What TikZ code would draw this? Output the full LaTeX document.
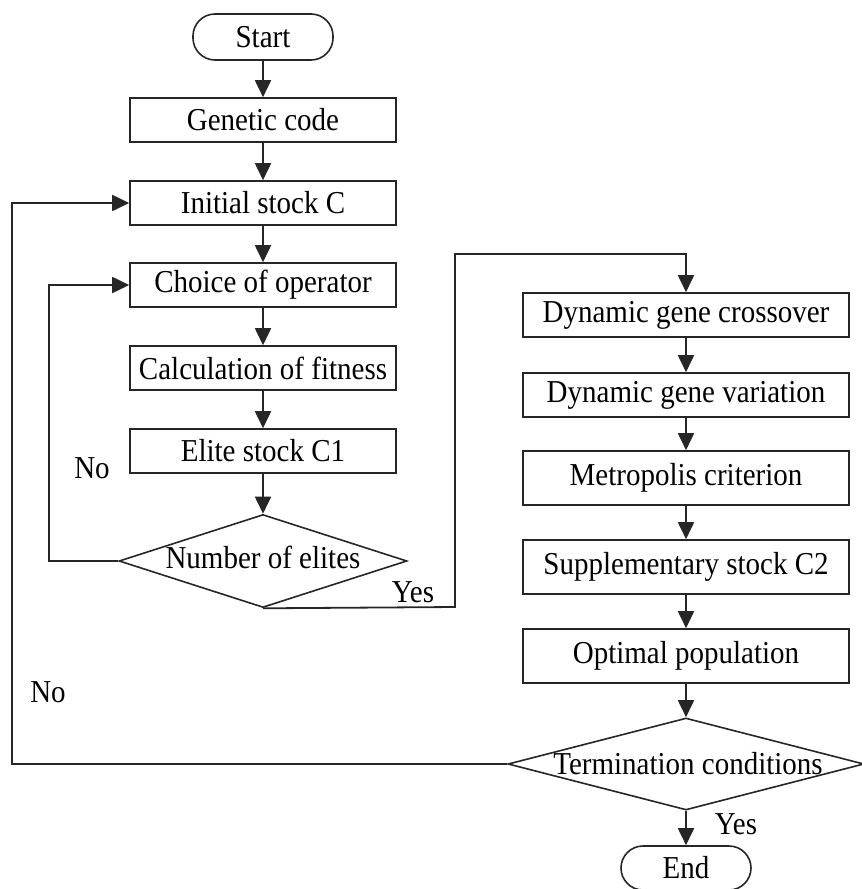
\documentclass[tikz,border=0pt]{standalone}
\usepackage{fontspec}
\setmainfont{Liberation Serif}
\usetikzlibrary{arrows.meta,shapes.geometric}
\newcommand{\tx}[1]{\scalebox{1.0}[1.1]{#1}}
\begin{document}
\begin{tikzpicture}[x=1pt,y=-1pt,
  every node/.style={font=\fontsize{29}{32}\selectfont, inner sep=0pt},
  lbox/.style={draw=black!85, line width=1.6pt, rectangle, minimum width=266pt, minimum height=44pt},
  rbox/.style={draw=black!85, line width=1.6pt, rectangle, minimum width=326pt, minimum height=44pt},
  term/.style={draw=black!85, line width=1.6pt, rectangle, rounded corners=22pt, minimum height=44pt},
  dia/.style={draw=black!85, line width=1.6pt, diamond, inner sep=0pt},
  conn/.style={draw=black!85, line width=1.8pt, -{Triangle[length=17pt,width=16pt]}},
  line/.style={draw=black!85, line width=1.8pt}
]
\useasboundingbox (0,0) rectangle (862,889);
% left column
\node[term, minimum width=140pt, minimum height=46pt] (start) at (263,37) {\tx{Start}};
\node[lbox] (gc) at (263,120) {\tx{Genetic code}};
\node[lbox] (ic) at (263,203) {\tx{Initial stock C}};
\node[lbox] (co) at (263,285) {\tx{Choice of operator}};
\node[lbox] (cf) at (263,368) {\tx{Calculation of fitness}};
\node[lbox] (es) at (263,451) {\tx{Elite stock C1}};
\node[dia, minimum width=288pt, minimum height=93pt] (d1) at (263,561) {};
\node (d1t) at (263,557) {\tx{Number of elites}};
% right column
\node[rbox] (dc) at (686,315) {\tx{Dynamic gene crossover}};
\node[rbox] (dv) at (686,395) {\tx{Dynamic gene variation}};
\node[rbox, minimum height=54pt] (mc) at (686,478) {\tx{Metropolis criterion}};
\node[rbox, minimum height=54pt] (sc) at (686,567) {\tx{Supplementary stock C2}};
\node[rbox, minimum height=54pt] (op) at (686,656) {\tx{Optimal population}};
\node[dia, minimum width=356pt, minimum height=92pt] (d2) at (686,764) {};
\node (d2t) at (688,764) {\tx{Termination conditions}};
\node[term, minimum width=130pt, minimum height=44pt] (end) at (686,868) {\tx{End}};
% labels
\node (no1) at (92,468) {\tx{No}};
\node (yes1) at (413,592) {\tx{Yes}};
\node (no2) at (48,692) {\tx{No}};
\node (yes2) at (736,824) {\tx{Yes}};
% coordinates
\coordinate (a1) at (49,561);
\coordinate (a2) at (49,285);
\coordinate (b1) at (455,607);
\coordinate (b2) at (455,254);
\coordinate (b3) at (686,254);
\coordinate (c1) at (12,764);
\coordinate (c2) at (12,203);
% connectors
\draw[conn] (start) -- (gc);
\draw[conn] (gc) -- (ic);
\draw[conn] (ic) -- (co);
\draw[conn] (co) -- (cf);
\draw[conn] (cf) -- (es);
\draw[conn] (es) -- (d1.north);
\draw[conn] (d1.west) -- (a1) -- (a2) -- (co.west);
\draw[conn] (d1.south) -- (b1) -- (b2) -- (b3) -- (dc.north);
\draw[conn] (dc) -- (dv);
\draw[conn] (dv) -- (mc);
\draw[conn] (mc) -- (sc);
\draw[conn] (sc) -- (op);
\draw[conn] (op.south) -- (d2.north);
\draw[conn] (d2.west) -- (c1) -- (c2) -- (ic.west);
\draw[conn] (d2.south) -- (end.north);
\end{tikzpicture}
\end{document}
